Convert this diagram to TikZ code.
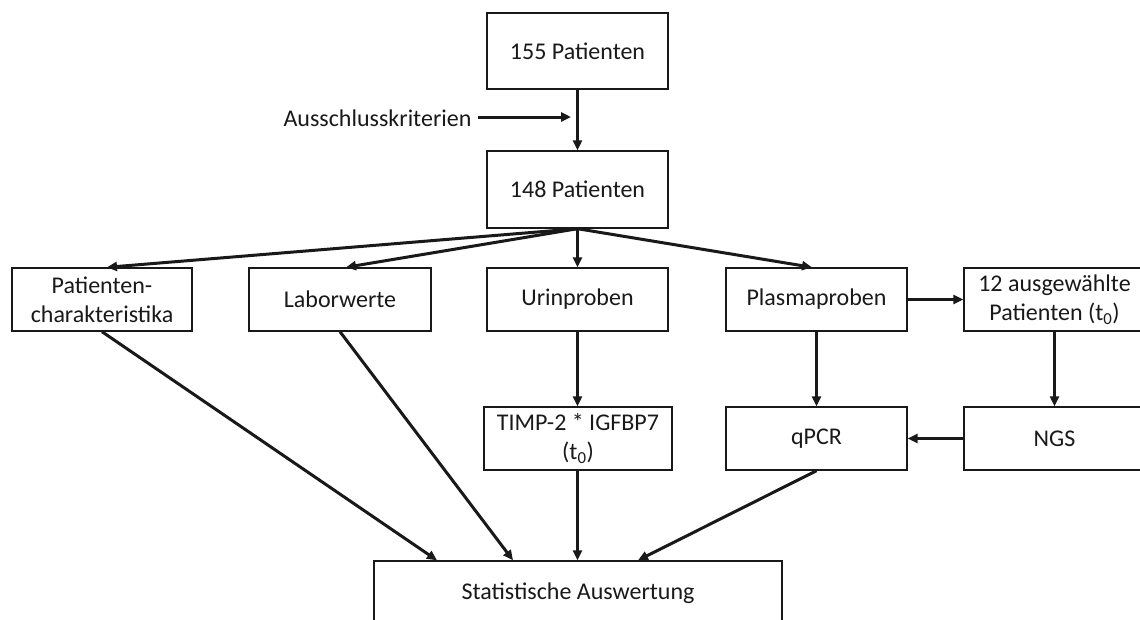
\documentclass[tikz,border=0pt]{standalone}
\usepackage{fontspec}
\setmainfont{Carlito}
\usetikzlibrary{arrows.meta}
\begin{document}
\begin{tikzpicture}[x=1pt,y=-1pt,
  box/.style={draw=black!90,line width=1.4pt,rectangle,inner sep=0pt,align=center,
    text=black!90,font=\fontsize{24}{29}\selectfont},
  arr/.style={line width=3pt,-{Triangle[length=10pt,width=9pt]},black!90},
  lbl/.style={inner sep=0pt,text=black!90,font=\fontsize{24}{29}\selectfont}]
\useasboundingbox (0,0) rectangle (1140,619);
\clip (0,0) rectangle (1140,619);
% boxes
\node[box,minimum width=181pt,minimum height=76pt] (p155) at (577.5,51) {155 Patienten};
\node[box,minimum width=181pt,minimum height=77pt] (p148) at (577.5,189.5) {148 Patienten};
\node[box,minimum width=180pt,minimum height=63pt] (char) at (102,299.5) {Patienten-\\charakteristika};
\node[box,minimum width=182pt,minimum height=63pt] (labor) at (340,299.5) {Laborwerte};
\node[box,minimum width=181pt,minimum height=63pt] (urin) at (577.5,299.5) {Urinproben};
\node[box,minimum width=181pt,minimum height=63pt] (plasma) at (816.5,299.5) {Plasmaproben};
\node[box,minimum width=181pt,minimum height=63pt] (ausg) at (1054.5,299.5) {12 ausgewählte\\Patienten (t\textsubscript{0})};
\node[box,minimum width=188pt,minimum height=63pt] (timp) at (578,438.5) {TIMP-2 * IGFBP7\\(t\textsubscript{0})};
\node[box,minimum width=181pt,minimum height=63pt] (qpcr) at (816.5,438.5) {qPCR};
\node[box,minimum width=181pt,minimum height=63pt] (ngs) at (1054.5,438.5) {NGS};
\node[box,minimum width=408pt,minimum height=64pt] (stats) at (578,593) {Statistische Auswertung};
% exclusion label
\node[lbl] (aus) at (377.5,118) {Ausschlusskriterien};
\coordinate (ausstart) at (478,117);
\coordinate (ausend) at (571,117);
% connectors
\draw[arr] (p155.south) -- (p148.north);
\draw[arr] (ausstart) -- (ausend);
\draw[arr] (p148.south) -- (char.north -| 107,0);
\draw[arr] (p148.south) -- (labor.north -| 346,0);
\draw[arr] (p148.south) -- (urin.north);
\draw[arr] (p148.south) -- (plasma.north -| 812,0);
\draw[arr] (plasma.east) -- (ausg.west);
\draw[arr] (plasma.south) -- (qpcr.north);
\draw[arr] (ausg.south) -- (ngs.north);
\draw[arr] (ngs.west) -- (qpcr.east);
\draw[arr] (urin.south) -- (timp.north -| urin.south);
\draw[arr] (char.south) -- (stats.north -| 437,0);
\draw[arr] (labor.south) -- (stats.north -| 513,0);
\draw[arr] (timp.south -| urin.south) -- (stats.north -| urin.south);
\draw[arr] (qpcr.south) -- (stats.north -| 638,0);
\end{tikzpicture}
\end{document}
